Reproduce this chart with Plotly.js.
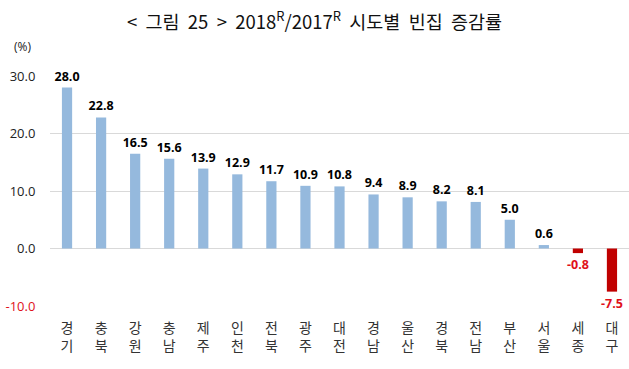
<!DOCTYPE html>
<html>
<head>
<meta charset="utf-8">
<script src="https://cdn.plot.ly/plotly-3.0.1.min.js"></script>
<style>html,body{margin:0;padding:0;background:#fff;}#chart{width:629px;height:369px;}</style>
</head>
<body>
<div id="chart"></div>
<script>
const categories = ["경<br>기","충<br>북","강<br>원","충<br>남","제<br>주","인<br>천","전<br>북","광<br>주","대<br>전","경<br>남","울<br>산","경<br>북","전<br>남","부<br>산","서<br>울","세<br>종","대<br>구"];
const values = [28.0,22.8,16.5,15.6,13.9,12.9,11.7,10.9,10.8,9.4,8.9,8.2,8.1,5.0,0.6,-0.8,-7.5];
const yTickVals = [-10,0,10,20,30];
const yTickText = ['<span style="color:#e0101a">-10.0</span>','0.0','10.0','20.0','30.0'];

const barColors = values.map(v => v < 0 ? '#c00000' : '#95b9dd');
const textColors = values.map(v => v < 0 ? '#e0101a' : '#000000');

const trace = {
  type: 'bar',
  x: categories,
  y: values,
  marker: {color: barColors},
  text: values.map(v => '<b>' + v.toFixed(1) + '</b>'),
  textposition: 'outside',
  constraintext: 'none',
  textfont: {family: 'Open Sans, Noto Sans, sans-serif', size: 12.5, color: textColors},
  cliponaxis: false,
  hoverinfo: 'none'
};

const layout = {
  width: 629, height: 369,
  margin: {l: 50, r: 0, t: 76, b: 63},
  paper_bgcolor: '#fff', plot_bgcolor: '#fff',
  bargap: 0.7,
  showlegend: false,
  title: {
    text: '<  그림  25  >  2018<sup>R</sup>/2017<sup>R</sup>  시도별  빈집  증감률',
    font: {family: 'Noto Sans CJK KR, sans-serif', size: 18.5, color: '#111'},
    x: 0.5, xanchor: 'center', y: 0.94, yanchor: 'middle'
  },
  xaxis: {
    type: 'category',
    tickfont: {family: 'Noto Sans CJK KR, sans-serif', size: 14, color: '#333'},
    showgrid: false, zeroline: false, showline: false,
    ticks: 'outside', ticklen: 9, tickcolor: 'rgba(0,0,0,0)', automargin: false
  },
  yaxis: {
    range: [-10, 30],
    tickvals: yTickVals, ticktext: yTickText,
    tickfont: {family: 'Open Sans, Noto Sans, sans-serif', size: 13, color: '#222'},
    showgrid: true, gridcolor: '#d9d9d9', gridwidth: 1,
    zeroline: true, zerolinecolor: '#d9d9d9', zerolinewidth: 1,
    showline: false, ticks: 'outside', ticklen: 11, tickcolor: 'rgba(0,0,0,0)',
    automargin: false, fixedrange: true
  },
  annotations: [{
    text: '(%)', xref: 'paper', yref: 'paper', x: -0.029, y: 1.13,
    xanchor: 'right', yanchor: 'middle', showarrow: false,
    font: {family: 'Open Sans, Noto Sans, sans-serif', size: 12, color: '#222'}
  }]
};

Plotly.newPlot('chart', [trace], layout, {displayModeBar: false, staticPlot: true});
</script>
</body>
</html>
